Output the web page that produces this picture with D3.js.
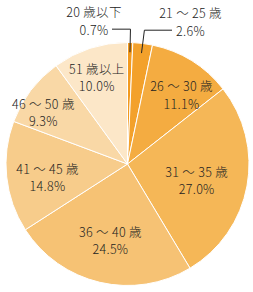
<!DOCTYPE html>
<html>
<head>
<meta charset="utf-8">
<script src="https://cdn.jsdelivr.net/npm/d3@7"></script>
<style>
  body { margin: 0; background: #fff; }
  text { font-family: "Noto Sans CJK JP", "Noto Sans", sans-serif; font-size: 12.5px; font-weight: 300; fill: #222; letter-spacing: 0.3px; }
</style>
</head>
<body>
<div id="vis"></div>
<script>
// age groups and share (%)
var categories = ["20 歳以下", "21 ～ 25 歳", "26 ～ 30 歳", "31 ～ 35 歳", "36 ～ 40 歳", "41 ～ 45 歳", "46 ～ 50 歳", "51 歳以上"];
var values = [0.7, 2.6, 11.1, 27.0, 24.5, 14.8, 9.3, 10.0];
var colors = ["#f29a1f", "#f3a12b", "#f4ac41", "#f5b757", "#f6c274", "#f7cc8b", "#f9d8a6", "#fce7c8"];

// label placement: radius and angle nudge (deg) for inside labels
var labelR = [0, 0, 88, 71, 78, 81, 99, 92];
var labelDA = [0, 0, 6, 2.5, -0.5, -3, -5.5, -1.5];

var width = 253, height = 292;
var cx = 127.5, cy = 164, radius = 121.5;

var svg = d3.select("#vis")
    .append("svg")
    .attr("width", width)
    .attr("height", height);

var g = svg.append("g")
    .attr("transform", "translate(" + cx + "," + cy + ")");

var data = categories.map(function (c, i) { return { name: c, value: values[i], i: i }; });

var pie = d3.pie().sort(null).value(d => d.value);
var arc = d3.arc().innerRadius(0).outerRadius(radius);
var arcs = pie(data);

g.selectAll("path.slice")
    .data(arcs)
    .enter()
    .append("path")
    .attr("class", "slice")
    .attr("d", arc)
    .attr("fill", d => colors[d.data.i])
    .attr("stroke", "#fff")
    .attr("stroke-width", 1);

function polar(r, a) {
    return [r * Math.sin(a), -r * Math.cos(a)];
}

// inside labels
arcs.forEach(function (d) {
    var i = d.data.i;
    if (i < 2) return;
    var a = (d.startAngle + d.endAngle) / 2 + labelDA[i] * Math.PI / 180;
    var p = polar(labelR[i], a);
    var t = g.append("text")
        .attr("text-anchor", "middle")
        .attr("x", p[0])
        .attr("y", p[1]);
    t.append("tspan").attr("x", p[0]).attr("dy", "-0.25em").text(d.data.name);
    t.append("tspan").attr("x", p[0]).attr("dy", "1.38em").text(d.data.value.toFixed(1) + "%");
});

// outside labels with leader lines for the two small slices
var outside = [
    { i: 0, lineEnd: -15.5, textX: -33.5 },
    { i: 1, lineEnd: 44.5, textX: 63 }
];
outside.forEach(function (o) {
    var d = arcs[o.i];
    var a = (d.startAngle + d.endAngle) / 2;
    var p1 = polar(radius * 0.92, a);
    var p2 = polar(radius * 1.11, a);
    g.append("polyline")
        .attr("points", [p1, p2, [o.lineEnd, p2[1]]].map(p => p.join(",")).join(" "))
        .attr("fill", "none")
        .attr("stroke", "#222")
        .attr("stroke-width", 1);
    var t = g.append("text")
        .attr("text-anchor", "middle")
        .attr("x", o.textX)
        .attr("y", p2[1]);
    t.append("tspan").attr("x", o.textX).attr("dy", "-0.95em").text(d.data.name);
    t.append("tspan").attr("x", o.textX).attr("dy", "1.38em").text(d.data.value.toFixed(1) + "%");
});
</script>
</body>
</html>
